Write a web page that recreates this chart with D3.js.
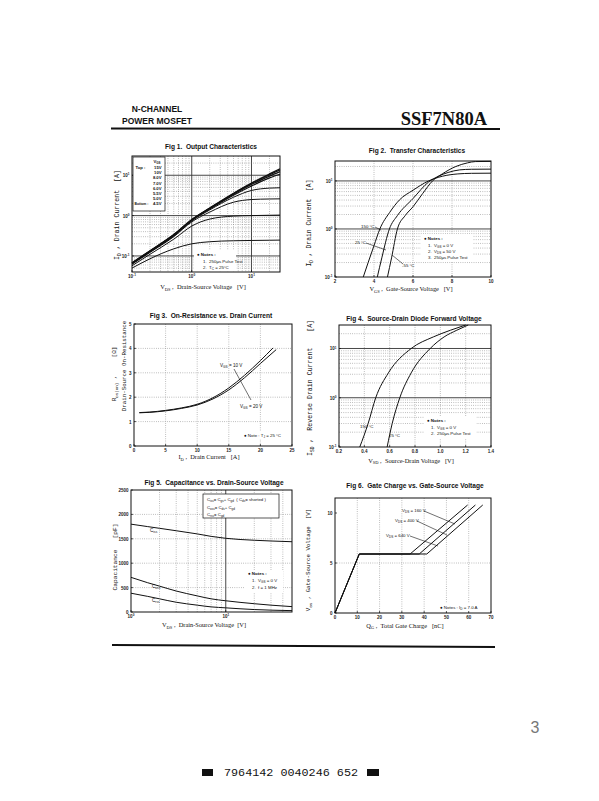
<!DOCTYPE html>
<html><head><meta charset="utf-8">
<script src="https://cdn.jsdelivr.net/npm/d3@7"></script>
<style>body{margin:0;background:#fff} svg{display:block} text{white-space:pre}</style>
</head><body>
<svg id="c" width="599" height="801"></svg>
<script>
// ---------------- DATA ----------------
// Fig 1 Output characteristics (VDS [V] vs ID [A]) per VGS
const fig1Vds = [0.1, 0.2, 0.5, 1, 2, 5, 10, 20, 30];
const fig1Id15 = [0.068, 0.135, 0.34, 0.80, 1.55, 3.6, 6.4, 10.8, 14.5];
const fig1Id10 = [0.067, 0.133, 0.335, 0.79, 1.52, 3.5, 6.2, 10.3, 13.6];
const fig1Id8 = [0.066, 0.131, 0.33, 0.78, 1.50, 3.4, 5.9, 9.5, 12.3];
const fig1Id7 = [0.065, 0.128, 0.32, 0.76, 1.45, 3.2, 5.4, 8.6, 10.6];
const fig1Id6 = [0.064, 0.126, 0.31, 0.74, 1.38, 2.85, 4.2, 4.8, 4.9];
const fig1Id55 = [0.062, 0.122, 0.30, 0.70, 1.22, 2.15, 2.5, 2.58, 2.6];
const fig1Id5 = [0.057, 0.11, 0.26, 0.55, 0.82, 0.97, 1.0, 1.02, 1.03];
const fig1Id45 = [0.05, 0.085, 0.15, 0.2, 0.225, 0.238, 0.242, 0.245, 0.247];
const fig1Legend = ["15V", "10V", "8.0V", "7.0V", "6.0V", "5.5V", "5.0V", "4.5V"];
const fig1XTicks = [0.1, 1, 10];
const fig1YTicks = [0.1, 1, 10];

// Fig 2 Transfer characteristics (VGS [V] vs ID [A])
const fig2Vgs150 = [3.45, 3.7, 4.0, 4.3, 4.8, 5.3, 6.0, 6.8, 7.5, 8.3, 9.0, 10];
const fig2Id150 = [0.1, 0.2, 0.45, 1.0, 2.2, 4.0, 6.4, 10, 12.5, 14, 14.4, 14.5];
const fig2Vgs25 = [4.17, 4.4, 4.79, 5.2, 6.0, 6.8, 7.3, 7.8, 8.4, 9.0, 10];
const fig2Id25 = [0.1, 0.25, 1.0, 1.9, 4.3, 9.5, 12.5, 15, 17, 17.5, 17.6];
const fig2VgsM55 = [4.69, 4.9, 5.2, 5.6, 6.0, 6.5, 7.0, 7.5, 8.2, 8.8, 9.2, 10];
const fig2IdM55 = [0.1, 0.25, 1.0, 1.9, 2.9, 5.5, 10, 14, 20, 23.8, 25.3, 25.5];
const fig2XTicks = [2, 4, 6, 8, 10];
const fig2YTicks = [0.1, 1, 10];

// Fig 3 On-resistance vs drain current
const fig3IdA = [0.85, 2.5, 5, 7.5, 10, 12.5, 15, 17.5, 20, 22];
const fig3R10 = [1.37, 1.39, 1.46, 1.56, 1.71, 1.98, 2.38, 2.9, 3.5, 4.02];
const fig3IdB = [0.85, 2.5, 5, 7.5, 10, 12.5, 15, 17.5, 20, 22.5];
const fig3R20 = [1.36, 1.38, 1.44, 1.54, 1.68, 1.93, 2.3, 2.8, 3.38, 3.95];
const fig3XTicks = [0, 5, 10, 15, 20, 25];
const fig3YTicks = [0, 1, 2, 3, 4, 5];

// Fig 4 Source-drain diode forward voltage
const fig4Vsd150 = [0.364, 0.43, 0.49, 0.59, 0.77, 0.945, 1.08, 1.2];
const fig4Vsd25 = [0.58, 0.62, 0.68, 0.77, 0.92, 1.03, 1.13, 1.22];
const fig4Isd = [0.1, 0.3, 1.0, 3.2, 10, 17.2, 23.5, 30];
const fig4XTicks = [0.2, 0.4, 0.6, 0.8, 1.0, 1.2, 1.4];
const fig4YTicks = [0.1, 1, 10];

// Fig 5 Capacitance vs VDS
const fig5Vds = [1, 1.5, 2, 3, 5, 7, 10, 20, 30, 50];
const fig5Ciss = [1800, 1750, 1715, 1665, 1600, 1550, 1510, 1470, 1455, 1440];
const fig5Coss = [710, 600, 530, 430, 330, 270, 230, 170, 140, 110];
const fig5Crss = [385, 320, 270, 200, 140, 105, 85, 50, 38, 28];
const fig5XTicks = [1, 10];
const fig5YTicks = [0, 500, 1000, 1500, 2000, 2500];

// Fig 6 Gate charge
const fig6Qg160 = [0, 10.9, 33.7, 59.5];
const fig6Qg400 = [0, 10.9, 37.8, 63];
const fig6Qg640 = [0, 10.9, 41.2, 66.3];
const fig6Vgs = [0, 5.9, 5.9, 10.8];
const fig6XTicks = [0, 10, 20, 30, 40, 50, 60, 70];
const fig6YTicks = [0, 5, 10];

// ---------------- DRAWING ----------------
const SANS = "'Liberation Sans', Arial, sans-serif";
const SERIF = "'Liberation Serif', 'Times New Roman', serif";
const MONO = "'Liberation Mono', 'Courier New', monospace";
const svg = d3.select("#c");
svg.append("rect").attr("width", 599).attr("height", 801).attr("fill", "#fff");

function rich(sel, parts, size) {
  let shift = 0;
  parts.forEach(p => {
    const s = typeof p === "string" ? p : p[0];
    const m = typeof p === "string" ? null : p[1];
    const t = sel.append("tspan").text(s);
    const target = m === "sub" ? size * 0.3 : m === "sup" ? -size * 0.4 : 0;
    if (target !== shift) { t.attr("dy", target - shift); shift = target; }
    if (m) t.attr("font-size", size * 0.7);
  });
  return sel;
}
function txt(x, y, parts, size, family, opts = {}) {
  const t = svg.append("text").attr("x", x).attr("y", y)
    .attr("font-size", size).attr("font-family", family)
    .attr("text-anchor", opts.anchor || "start")
    .attr("font-weight", opts.weight || "normal")
    .attr("fill", opts.fill || "#111");
  rich(t, parts, size);
  return t;
}
function vtxt(x, cy, parts, size, family) {
  const t = svg.append("text").attr("transform", `translate(${x},${cy}) rotate(-90)`)
    .attr("font-size", size).attr("font-family", family).attr("text-anchor", "middle").attr("fill", "#111");
  rich(t, parts, size);
  return t;
}
function logLines(dom) {
  const out = [];
  const lo = Math.floor(Math.log10(dom[0])), hi = Math.ceil(Math.log10(dom[1]));
  for (let d = lo; d <= hi; d++) for (let k = 1; k <= 9; k++) {
    const v = k * Math.pow(10, d);
    if (v > dom[0] * 1.0001 && v < dom[1] * 0.9999) out.push([v, k === 1]);
  }
  return out;
}
function expOf(v) { return Math.round(Math.log10(v)); }

const TF = 4.5;
function makePanel(c) {
  const g = svg.append("g");
  const x = (c.xLog ? d3.scaleLog() : d3.scaleLinear()).domain(c.xDomain).range([c.left, c.right]);
  const y = (c.yLog ? d3.scaleLog() : d3.scaleLinear()).domain(c.yDomain).range([c.bottom, c.top]);
  const grid = g.append("g");
  const sty = (s, solid) => solid
    ? s.attr("stroke", "#333").attr("stroke-width", 0.9)
    : s.attr("stroke", "#7a7a7a").attr("stroke-width", 0.6).attr("stroke-dasharray", "0.8,1.4");
  const xs = c.xLog ? logLines(c.xDomain) : c.xTicks.slice(1, -1).map(v => [v, false]);
  const ys = c.yLog ? logLines(c.yDomain) : c.yTicks.slice(1, -1).map(v => [v, false]);
  xs.forEach(([v, m]) => grid.append("line").attr("x1", x(v)).attr("x2", x(v)).attr("y1", c.top).attr("y2", c.bottom).call(sty, m));
  ys.forEach(([v, m]) => grid.append("line").attr("y1", y(v)).attr("y2", y(v)).attr("x1", c.left).attr("x2", c.right).call(sty, m));
  const tl = g.append("g").attr("font-family", SANS).attr("font-size", TF).attr("font-weight", "bold").attr("fill", "#222");
  c.xTicks.forEach(v => {
    const t = tl.append("text").attr("x", x(v)).attr("y", c.bottom + 6.2).attr("text-anchor", "middle");
    if (c.xLog) rich(t, ["10", [String(expOf(v)), "sup"]], TF); else t.text(c.xFmt ? c.xFmt(v) : v);
  });
  c.yTicks.forEach(v => {
    const t = tl.append("text").attr("x", c.left - 2.5).attr("y", y(v) + 2).attr("text-anchor", "end");
    if (c.yLog) rich(t, ["10", [String(expOf(v)), "sup"]], TF); else t.text(v);
  });
  c.xTicks.forEach(v => g.append("line").attr("x1", x(v)).attr("x2", x(v)).attr("y1", c.bottom).attr("y2", c.bottom - 2).attr("stroke", "#111").attr("stroke-width", 0.7));
  c.yTicks.forEach(v => g.append("line").attr("y1", y(v)).attr("y2", y(v)).attr("x1", c.left).attr("x2", c.left + 2).attr("stroke", "#111").attr("stroke-width", 0.7));
  const layer = g.append("g");
  g.append("rect").attr("x", c.left).attr("y", c.top).attr("width", c.right - c.left).attr("height", c.bottom - c.top)
    .attr("fill", "none").attr("stroke", "#111").attr("stroke-width", 1);
  return { g: layer, x, y, c };
}
function curve(p, xs, ys, w = 1, lin = false) {
  const pts = xs.map((v, i) => [p.x(v), p.y(ys[i])]);
  p.g.append("path").attr("d", d3.line().curve(lin ? d3.curveLinear : d3.curveMonotoneX)(pts))
    .attr("fill", "none").attr("stroke", "#111").attr("stroke-width", w);
}
function whiteBox(p, x, y, w, h, border) {
  p.g.append("rect").attr("x", x).attr("y", y).attr("width", w).attr("height", h)
    .attr("fill", "#fff").attr("stroke", border ? "#111" : "none").attr("stroke-width", 0.7);
}
function seg(x1, y1, x2, y2, w = 0.6) {
  svg.append("line").attr("x1", x1).attr("y1", y1).attr("x2", x2).attr("y2", y2).attr("stroke", "#111").attr("stroke-width", w);
}

// Header
txt(157, 112, ["N-CHANNEL"], 8.5, SANS, { anchor: "middle", weight: "bold" });
txt(157, 123.5, ["POWER MOSFET"], 8.5, SANS, { anchor: "middle", weight: "bold" });
txt(487, 124.5, ["SSF7N80A"], 18.5, SERIF, { anchor: "end", weight: "bold" });
seg(111, 128.5, 500, 129, 2);

// Titles
const titleOpts = { anchor: "middle", weight: "bold" };
txt(211, 148.5, ["Fig 1.  Output Characteristics"], 6.6, SANS, titleOpts);
txt(417, 152.5, ["Fig 2.  Transfer Characteristics"], 6.6, SANS, titleOpts);
txt(211, 318, ["Fig 3.  On-Resistance vs. Drain Current"], 6.6, SANS, titleOpts);
txt(414, 321, ["Fig 4.  Source-Drain Diode Forward Voltage"], 6.6, SANS, titleOpts);
txt(214, 485, ["Fig 5.  Capacitance vs. Drain-Source Voltage"], 6.6, SANS, titleOpts);
txt(415, 487.5, ["Fig 6.  Gate Charge vs. Gate-Source Voltage"], 6.6, SANS, titleOpts);

// ---- Fig 1
const p1 = makePanel({ left: 132, right: 280, top: 156, bottom: 272, xLog: true, yLog: true,
  xDomain: [0.1, 30], yDomain: [0.04, 30], xTicks: fig1XTicks, yTicks: fig1YTicks });
whiteBox(p1, 194, 250, 42, 21, false);
[fig1Id15, fig1Id10, fig1Id8, fig1Id7, fig1Id6, fig1Id55, fig1Id5, fig1Id45].forEach((ys, i) => curve(p1, fig1Vds, ys, i < 4 ? 1.2 : 1));
whiteBox(p1, 133, 157, 32, 54, true);
const lf = 4.2;
txt(160.5, 163, ["V", ["GS", "sub"]], lf, SANS, { anchor: "end", weight: "bold" });
txt(135.5, 169, ["Top :"], lf, SANS, { weight: "bold" });
txt(134.5, 205.4, ["Bottom :"], 3.4, SANS, { weight: "bold" });
fig1Legend.forEach((s, i) => txt(161.5, 169 + i * 5.2, [s], lf, SANS, { anchor: "end", weight: "bold" }));
const nf = 4.4;
txt(197, 256, ["\u25CF Notes :"], nf, SANS, { weight: "bold" });
txt(203, 262.5, ["1.  250\u03BCs Pulse Test"], nf, SANS);
txt(203, 268.5, ["2.  T", ["C", "sub"], " = 25\u00B0C"], nf, SANS);
vtxt(119, 215, ["I", ["D", "sub"], " , Drain Current  [A]"], 6.6, MONO);
txt(203, 289, ["V", ["DS", "sub"], " ,  Drain-Source Voltage   [V]"], 6.4, SERIF, { anchor: "middle" });

// ---- Fig 2
const p2 = makePanel({ left: 335, right: 491, top: 161, bottom: 277, xLog: false, yLog: true,
  xDomain: [2, 10], yDomain: [0.1, 26], xTicks: fig2XTicks, yTicks: fig2YTicks });
whiteBox(p2, 421, 234, 52, 27, false);
curve(p2, fig2Vgs150, fig2Id150);
curve(p2, fig2Vgs25, fig2Id25);
curve(p2, fig2VgsM55, fig2IdM55);
txt(361, 228, ["150 \u00B0C"], 4.4, SANS);
seg(375, 227, 381, 230);
txt(355, 244, ["25 \u00B0C"], 4.4, SANS);
seg(366, 243, 386, 250);
txt(402, 267, ["-55 \u00B0C"], 4.4, SANS);
seg(392, 255, 403, 264);
txt(424, 240, ["\u25CF Notes :"], nf, SANS, { weight: "bold" });
txt(428, 246.5, ["1.  V", ["GS", "sub"], " = 0 V"], nf, SANS);
txt(428, 252.5, ["2.  V", ["DS", "sub"], " = 50 V"], nf, SANS);
txt(428, 258.5, ["3.  250\u03BCs Pulse Test"], nf, SANS);
vtxt(311, 223, ["I", ["D", "sub"], " , Drain Current  [A]"], 6.4, MONO);
txt(411, 291, ["V", ["GS", "sub"], " ,  Gate-Source Voltage   [V]"], 6.4, SERIF, { anchor: "middle" });

// ---- Fig 3
const p3 = makePanel({ left: 134, right: 292, top: 324, bottom: 446, xLog: false, yLog: false,
  xDomain: [0, 25], yDomain: [0, 5], xTicks: fig3XTicks, yTicks: fig3YTicks });
whiteBox(p3, 242, 431, 46, 8, false);
curve(p3, fig3IdA, fig3R10);
curve(p3, fig3IdB, fig3R20);
txt(220, 367, ["V", ["GS", "sub"], " = 10 V"], 4.6, SANS);
txt(240, 408, ["V", ["GS", "sub"], " = 20 V"], 4.6, SANS);
seg(234, 369, 251, 400);
txt(244, 437, ["\u25CF Note : T", ["J", "sub"], " = 25 \u00B0C"], nf, SANS);
vtxt(116, 374, ["R", ["DS(on)", "sub"], " ,     [\u03A9]"], 6, MONO);
vtxt(126, 366, ["Drain-Source On-Resistance"], 5.8, MONO);
txt(209, 459, ["I", ["D", "sub"], " ,  Drain Current   [A]"], 6.4, SERIF, { anchor: "middle" });

// ---- Fig 4
const p4 = makePanel({ left: 339, right: 491, top: 325, bottom: 447, xLog: false, yLog: true,
  xDomain: [0.2, 1.4], yDomain: [0.1, 30], xTicks: fig4XTicks, yTicks: fig4YTicks, xFmt: d3.format(".1f") });
whiteBox(p4, 424, 416, 52, 22, false);
curve(p4, fig4Vsd150, fig4Isd);
curve(p4, fig4Vsd25, fig4Isd);
txt(360, 428, ["150 \u00B0C"], 4.4, SANS);
txt(389, 437, ["25 \u00B0C"], 4.4, SANS);
txt(427, 422, ["\u25CF Notes :"], nf, SANS, { weight: "bold" });
txt(431, 428.5, ["1.  V", ["GS", "sub"], " = 0 V"], nf, SANS);
txt(431, 435, ["2.  250\u03BCs Pulse Test"], nf, SANS);
vtxt(312, 388, ["I", ["SD", "sub"], " ,  Reverse Drain Current    [A]"], 6.6, MONO);
txt(411, 462.5, ["V", ["SD", "sub"], " ,  Source-Drain Voltage   [V]"], 6.4, SERIF, { anchor: "middle" });

// ---- Fig 5
const p5 = makePanel({ left: 131, right: 292, top: 490, bottom: 612, xLog: true, yLog: false,
  xDomain: [1, 50], yDomain: [0, 2500], xTicks: fig5XTicks, yTicks: fig5YTicks });
whiteBox(p5, 245, 570, 38, 22, false);
curve(p5, fig5Vds, fig5Ciss);
curve(p5, fig5Vds, fig5Coss);
curve(p5, fig5Vds, fig5Crss);
whiteBox(p5, 203, 494, 76, 24, true);
const cf = 4.3;
txt(207, 501, ["C", ["iss", "sub"], "= C", ["gs", "sub"], "+ C", ["gd", "sub"], "  ( C", ["ds", "sub"], "= shorted )"], cf, SANS);
txt(207, 508.5, ["C", ["oss", "sub"], "= C", ["ds", "sub"], "+ C", ["gd", "sub"]], cf, SANS);
txt(207, 515.5, ["C", ["rss", "sub"], "= C", ["gd", "sub"]], cf, SANS);
txt(150, 532, ["C", ["iss", "sub"]], 4.6, SANS);
txt(152, 588, ["C", ["oss", "sub"]], 4.6, SANS);
txt(152, 602, ["C", ["rss", "sub"]], 4.6, SANS);
txt(248, 575, ["\u25CF Notes :"], nf, SANS, { weight: "bold" });
txt(252, 582, ["1.  V", ["GS", "sub"], " = 0 V"], nf, SANS);
txt(252, 589, ["2.  f = 1 MHz"], nf, SANS);
vtxt(116.5, 557, ["Capacitance   [pF]"], 6.2, MONO);
txt(204, 627, ["V", ["DS", "sub"], " ,  Drain-Source Voltage  [V]"], 6.4, SERIF, { anchor: "middle" });

// ---- Fig 6
const p6 = makePanel({ left: 335, right: 491, top: 498, bottom: 613, xLog: false, yLog: false,
  xDomain: [0, 70], yDomain: [0, 11.5], xTicks: fig6XTicks, yTicks: fig6YTicks });
whiteBox(p6, 437, 603, 50, 8, false);
curve(p6, fig6Qg160, fig6Vgs, 1, true);
curve(p6, fig6Qg400, fig6Vgs, 1, true);
curve(p6, fig6Qg640, fig6Vgs, 1, true);
txt(402, 512, ["V", ["DS", "sub"], " = 160 V"], 4.4, SANS);
txt(395, 522, ["V", ["DS", "sub"], " = 400 V"], 4.4, SANS);
txt(386, 537, ["V", ["DS", "sub"], " = 640 V"], 4.4, SANS);
seg(424, 511, 455, 524);
seg(417, 521, 447, 535);
seg(410, 536, 438, 546);
txt(440, 609, ["\u25CF Notes : I", ["D", "sub"], " = 7.0 A"], nf, SANS);
vtxt(310, 560, ["V", ["GS", "sub"], " , Gate-Source Voltage  [V]"], 5.8, MONO);
txt(405, 627.5, ["Q", ["G", "sub"], " ,  Total Gate Charge   [nC]"], 6.4, SERIF, { anchor: "middle" });

// Bottom rule, page number, footer
seg(112, 645, 495, 647, 2);
txt(535, 733, ["3"], 16, SANS, { anchor: "middle", fill: "#777" });
svg.append("rect").attr("x", 202).attr("y", 769).attr("width", 11).attr("height", 7).attr("fill", "#111");
svg.append("rect").attr("x", 367).attr("y", 769).attr("width", 12).attr("height", 7).attr("fill", "#111");
svg.append("text").attr("x", 224).attr("y", 776).attr("font-family", MONO).attr("font-size", 10.5)
  .attr("textLength", 134).attr("lengthAdjust", "spacingAndGlyphs").attr("fill", "#111").text("7964142 0040246 652");
</script></body></html>
